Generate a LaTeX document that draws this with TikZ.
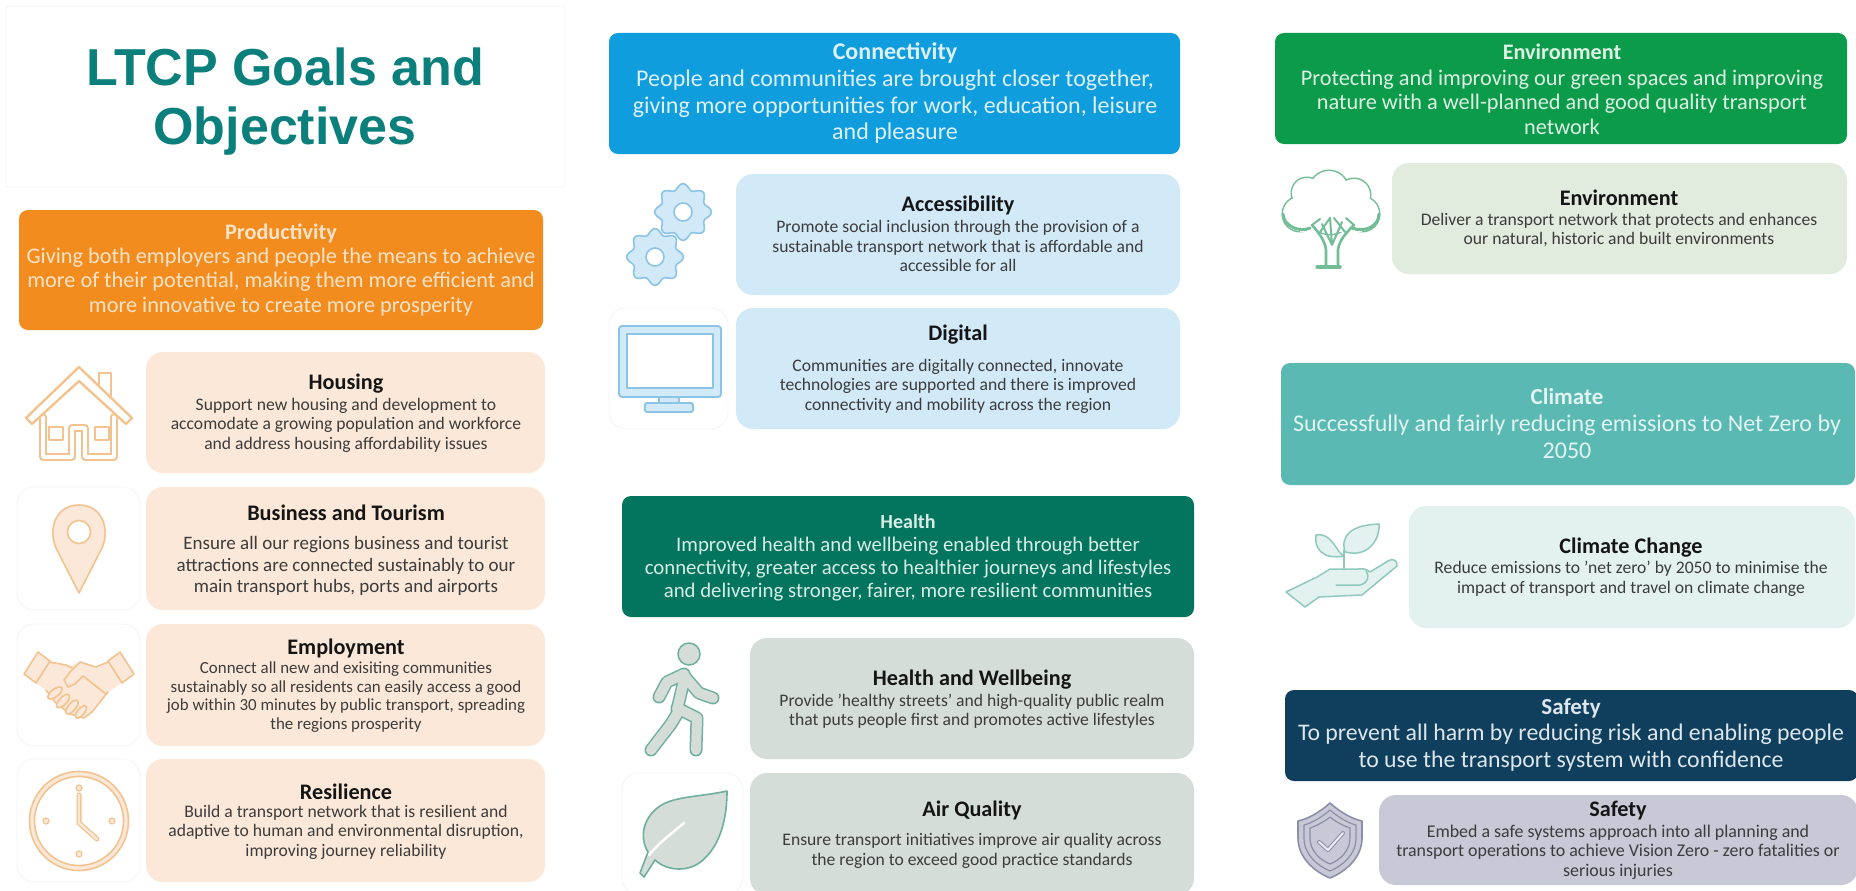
\documentclass[tikz,border=0pt]{standalone}
\usepackage{fontspec}
\setmainfont{Carlito}
\setsansfont{Liberation Sans}
\definecolor{oA}{HTML}{F28C1E}\definecolor{oB}{HTML}{FBE8D8}\definecolor{oS}{HTML}{F3C38F}\definecolor{oT}{HTML}{FBE3C8}
\definecolor{bA}{HTML}{0F9DDE}\definecolor{bB}{HTML}{D2E9F8}\definecolor{bS}{HTML}{8CC4E8}\definecolor{bT}{HTML}{DDF1FB}
\definecolor{hA}{HTML}{03745E}\definecolor{hB}{HTML}{D5DDD9}\definecolor{hS}{HTML}{6FAF9F}\definecolor{hT}{HTML}{D8EDE6}
\definecolor{eA}{HTML}{0B9B4A}\definecolor{eB}{HTML}{E1EBDE}\definecolor{eS}{HTML}{73BD96}\definecolor{eT}{HTML}{DDF2E4}
\definecolor{cA}{HTML}{5BB9B3}\definecolor{cB}{HTML}{E3F2EF}\definecolor{cS}{HTML}{8FC9BE}\definecolor{cT}{HTML}{E2F4F2}
\definecolor{sA}{HTML}{0F3F5C}\definecolor{sB}{HTML}{C9C8D6}\definecolor{sS}{HTML}{8A8FA8}\definecolor{sT}{HTML}{DCE6EC}
\definecolor{titlecol}{HTML}{0B7F7B}\definecolor{edge}{HTML}{F4F4F4}\definecolor{bodycol}{HTML}{3C3C3C}\definecolor{headcol}{HTML}{151515}
\tikzset{
  band/.style={rounded corners=9pt,inner sep=0pt,outer sep=0pt,draw=none},
  card/.style={rounded corners=17pt,inner sep=0pt,outer sep=0pt,draw=none},
  iconbg/.style={rounded corners=17pt,inner sep=0pt,outer sep=0pt,draw=edge,line width=.8pt,fill=white},
  tx/.style={align=center,inner sep=0pt,outer sep=0pt},
  bandhead/.style={tx,font=\fontsize{22.2}{26}\selectfont\bfseries},
  bandbody/.style={tx,font=\fontsize{22.3}{24.6}\selectfont},
  cardhead/.style={tx,text=headcol,font=\fontsize{22.2}{26}\selectfont\bfseries},
  cardbody/.style={tx,text=bodycol,font=\fontsize{17.6}{19.4}\selectfont},
  titletext/.style={tx,text=titlecol,font=\fontsize{52}{59}\selectfont\sffamily\bfseries},
  icon/.style={line join=round,line cap=round}
}
\newcommand{\bx}[6]{\node[#2,minimum width={(#5-#3)*1pt},minimum height={(#6-#4)*1pt}] (#1) at ({(#3+#5)/2},{(#4+#6)/2}) {};}
\newcommand{\gearicon}[2]{%
  \draw[bS,fill=bB,line width=1.6pt,smooth cycle] plot[domain=0:357.5,samples=144,variable=\t] ({#1+(25.5+2.8*cos(8*\t))*cos(\t)},{#2+(25.5+2.8*cos(8*\t))*sin(\t)});
  \draw[bS,fill=white,line width=1.6pt] (#1,#2) circle (9);}
\begin{document}
\begin{tikzpicture}[x=1pt,y=-1pt]
\path[use as bounding box,fill=white] (0,0) rectangle (1856,891);
% title
\bx{titlebox}{iconbg,rounded corners=2pt}{6}{6}{565}{187}
\node[titletext] (title) at (285,102) {LTCP Goals and\\Objectives};
% icon backgrounds
\bx{ibiz}{iconbg}{17}{487}{140}{610}
\bx{iemp}{iconbg}{17}{624}{140}{746}
\bx{ires}{iconbg}{17}{759}{140}{882}
\bx{idig}{iconbg}{609}{308}{728}{429}
\bx{iair}{iconbg}{622}{773}{743}{895}
% left column
\bx{prod}{band,fill=oA}{19}{210}{543}{330}
\node[bandhead,text=oT] (prodh) at (281,233) {Productivity};
\node[bandbody,text=oT] (prodb) at (281,282) {Giving both employers and people the means to achieve\\more of their potential, making them more efficient and\\more innovative to create more prosperity};
\bx{hous}{card,fill=oB}{146}{352}{545}{473}
\node[cardhead] (oush) at (346,384) {Housing};
\node[cardbody] (ousb) at (346,425) {Support new housing and development to\\accomodate a growing population and workforce\\and address housing affordability issues};
\bx{biz}{card,fill=oB}{146}{487}{545}{610}
\node[cardhead] (bizh) at (346,513) {Business and Tourism};
\node[cardbody,font=\fontsize{19}{21.4}\selectfont] (bizb) at (346,566) {Ensure all our regions business and tourist\\attractions are connected sustainably to our\\main transport hubs, ports and airports};
\bx{emp}{card,fill=oB}{146}{624}{545}{746}
\node[cardhead] (emph) at (346,648) {Employment};
\node[cardbody,font=\fontsize{16.9}{18.6}\selectfont] (empb) at (346,697) {Connect all new and exisiting communities\\sustainably so all residents can easily access a good\\job within 30 minutes by public transport, spreading\\the regions prosperity};
\bx{res}{card,fill=oB}{146}{759}{545}{882}
\node[cardhead] (resh) at (346,792) {Resilience};
\node[cardbody] (resb) at (346,832) {Build a transport network that is resilient and\\adaptive to human and environmental disruption,\\improving journey reliability};
% middle column top
\bx{conn}{band,fill=bA}{609}{33}{1180}{154}
\node[bandhead,font=\fontsize{24}{28}\selectfont\bfseries,text=bT] (connh) at (895,53) {Connectivity};
\node[bandbody,font=\fontsize{24}{26.4}\selectfont,text=bT] (connb) at (895,107) {People and communities are brought closer together,\\giving more opportunities for work, education, leisure\\and pleasure};
\bx{acc}{card,fill=bB}{736}{174}{1180}{295}
\node[cardhead] (acch) at (958,205) {Accessibility};
\node[cardbody] (accb) at (958,246) {Promote social inclusion through the provision of a\\sustainable transport network that is affordable and\\accessible for all};
\bx{dig}{card,fill=bB}{736}{308}{1180}{429}
\node[cardhead] (digh) at (958,335) {Digital};
\node[cardbody] (digb) at (958,386) {Communities are digitally connected, innovate\\technologies are supported and there is improved\\connectivity and mobility across the region};
% middle column bottom
\bx{heal}{band,fill=hA}{622}{496}{1194}{617}
\node[bandhead,font=\fontsize{20}{24}\selectfont\bfseries,text=hT] (healh) at (908,522) {Health};
\node[bandbody,text=hT,font=\fontsize{20.8}{23.2}\selectfont] (healb) at (908,569) {Improved health and wellbeing enabled through better\\connectivity, greater access to healthier journeys and lifestyles\\and delivering stronger, fairer, more resilient communities};
\bx{hw}{card,fill=hB}{750}{638}{1194}{759}
\node[cardhead] (hwh) at (972,680) {Health and Wellbeing};
\node[cardbody] (hwb) at (972,711) {Provide 'healthy streets' and high-quality public realm\\that puts people first and promotes active lifestyles};
\bx{air}{card,fill=hB}{750}{773}{1194}{895}
\node[cardhead] (airh) at (972,810) {Air Quality};
\node[cardbody] (airb) at (972,851) {Ensure transport initiatives improve air quality across\\the region to exceed good practice standards};
% right column
\bx{envb}{band,fill=eA}{1275}{33}{1847}{144}
\node[bandhead,text=eT] (envbh) at (1562,52) {Environment};
\node[bandbody,text=eT] (envbb) at (1562,102) {Protecting and improving our green spaces and improving\\nature with a well-planned and good quality transport\\network};
\bx{envc}{card,fill=eB}{1392}{163}{1847}{274}
\node[cardhead] (envch) at (1619,198) {Environment};
\node[cardbody] (envcb) at (1619,230) {Deliver a transport network that protects and enhances\\our natural, historic and built environments};
\bx{clib}{band,fill=cA}{1281}{363}{1855}{485}
\node[bandhead,text=cT,font=\fontsize{23}{28}\selectfont\bfseries] (clibh) at (1567,397) {Climate};
\node[bandbody,text=cT,font=\fontsize{24}{26.6}\selectfont] (clibb) at (1567,437) {Successfully and fairly reducing emissions to Net Zero by\\2050};
\bx{clic}{card,fill=cB}{1409}{506}{1855}{628}
\node[cardhead] (clich) at (1631,548) {Climate Change};
\node[cardbody] (clicb) at (1631,579) {Reduce emissions to 'net zero' by 2050 to minimise the\\impact of transport and travel on climate change};
\bx{safb}{band,fill=sA}{1285}{690}{1858}{781}
\node[bandhead,text=sT,font=\fontsize{23}{26}\selectfont\bfseries] (safbh) at (1571,708) {Safety};
\node[bandbody,text=sT,font=\fontsize{23.8}{26.8}\selectfont] (safbb) at (1571,748) {To prevent all harm by reducing risk and enabling people\\to use the transport system with confidence};
\bx{safc}{card,fill=sB}{1379}{795}{1858}{885}
\node[cardhead] (safch) at (1618,811) {Safety};
\node[cardbody,font=\fontsize{17.9}{19.4}\selectfont] (safcb) at (1618,852) {Embed a safe systems approach into all planning and\\transport operations to achieve Vision Zero - zero fatalities or\\serious injuries};
% ---------- icons ----------
% house
\begin{scope}[icon]
\draw[oS,line width=2pt,fill=white] (99,373) rectangle (111,398);
\draw[oS,line width=7.4pt] (43,417)--(43,457)--(72,457)--(72,428)--(85,428)--(85,457)--(114,457)--(114,417);
\draw[white,line width=3.4pt] (43,417)--(43,457)--(72,457)--(72,428)--(85,428)--(85,457)--(114,457)--(114,417);
\draw[oS,line width=2.4pt,fill=white] (26,418)--(79,367)--(132,418)--(126,424)--(79,381)--(32,424)--cycle;
\draw[oS,line width=2.2pt] (49,427) rectangle (63,440) (95,427) rectangle (109,440);
\end{scope}
% pin
\draw[icon,oS,fill=oB,line width=1.6pt] (79,593)--(56,548) .. controls (48,530) and (55,505) .. (79,505) .. controls (103,505) and (110,530) .. (102,548) -- cycle;
\draw[oS,fill=white,line width=1.6pt] (79,532) ellipse (11.5 and 11.5);
% handshake
\begin{scope}[icon,oS,line width=1.6pt]
\fill[oB] (50,662)--(70,666)--(80,662)--(98,668)--(108,662)--(122,683)--(108,692)--(92,712)--(84,718)--(70,714)--(55,702)--(46,690)--(36,683)--cycle;
\draw (50,662)--(66,665)--(72,668) (46,690)--(55,702)--(70,714)--(84,718)--(92,712)--(108,692);
\draw[fill=oB] (24,674)--(38,652)--(50,661)--(36,683)--cycle;
\draw[fill=oB] (134,674)--(120,652)--(108,661)--(122,683)--cycle;
\draw (108,662)--(96,667)--(80,662)--(70,672)--(64,680)--(68,687)--(75,684)--(83,676)--(106,694);
\draw[fill=oB,rotate around={38:(55,693)}] (55,693) ellipse (8.5 and 3.8);
\draw[fill=oB,rotate around={45:(63,701)}] (63,701) ellipse (8.5 and 3.8);
\draw[fill=oB,rotate around={50:(72,707)}] (72,707) ellipse (8.5 and 3.8);
\draw[fill=oB,rotate around={50:(81,712)}] (81,712) ellipse (7.5 and 3.4);
\end{scope}
% clock
\draw[oS,fill=oB,line width=1.6pt] (79,821) circle (49.5);
\draw[oS,fill=white,line width=1.6pt] (79,821) circle (44.5);
\foreach \dx/\dy in {0/-33,0/33,-33/0,33/0}{\draw[oS,fill=oB,line width=1.2pt] ({79+\dx},{821+\dy}) circle (3);}
\draw[icon,oS,line width=5pt] (79,795)--(79,823)--(97,839);
\draw[icon,oB,line width=2.4pt] (79,795)--(79,823)--(97,839);
% gears
\gearicon{683}{212}
\gearicon{655}{257}
% monitor
\begin{scope}[icon,bS,line width=1.8pt]
\draw[fill=bB] (659,396) rectangle (679,404);
\draw[fill=bB,rounded corners=1.5pt] (645,403) rectangle (693,412);
\draw[fill=bB,rounded corners=3pt] (619,326) rectangle (721,397);
\draw[fill=white] (627,334) rectangle (713,388);
\end{scope}
% walker
\begin{scope}[icon]
\draw[hS,fill=hB,line width=1.5pt] (689,654) circle (11);
\def\walkpath{(685,676)--(677,710) (684,674)--(667,682)--(659,697) (685,677)--(699,693)--(713,698) (677,708)--(697,718)--(696,750) (677,714)--(671,724)--(651,750)}
\draw[hS,line width=13pt] \walkpath;
\draw[hB,line width=10pt] \walkpath;
\end{scope}
% leaf
\begin{scope}[icon]
\draw[hS,fill=hB,line width=1.6pt] (727,791) .. controls (700,797) and (675,796) .. (660,806) .. controls (645,816) and (638,835) .. (648,852) -- (640,873) -- (644,877) -- (655,860) .. controls (668,872) and (690,872) .. (703,860) .. controls (722,843) and (727,815) .. (727,791) -- cycle;
\draw[white,line width=2.4pt] (684,823) .. controls (672,833) and (660,842) .. (649,855);
\end{scope}
% tree
\begin{scope}[icon]
\def\crown{(1329,190) circle (19) (1307,193) circle (15) (1354,195) circle (16) (1300,214) circle (17) (1362,214) circle (17) (1330,212) circle (22) (1316,208) circle (12) (1345,208) circle (12)}
\draw[eS,line width=3pt,fill=white] \crown;
\fill[white] \crown;
\fill[white] (1300,222) rectangle (1362,232);
\draw[eS,line width=3pt] (1283,214) .. controls (1283,226) and (1300,233) .. (1310,228) (1379,214) .. controls (1379,226) and (1365,233) .. (1352,228);
\draw[eS,line width=2.6pt] (1326,266)--(1326,250) .. controls (1325,240) and (1318,232) .. (1312,225) (1338,266)--(1338,250) .. controls (1339,240) and (1347,232) .. (1354,225);
\draw[eS,line width=2pt] (1332,245)--(1330,218) (1332,245)--(1322,224) (1332,245)--(1342,222) (1312,225)--(1320,219) (1354,225)--(1346,218) (1320,232)--(1330,218) (1345,232)--(1334,218);
\draw[eS,line width=3.4pt] (1317,267)--(1340,267);
\end{scope}
% plant in hand
\begin{scope}[icon,cS,line width=1.5pt]
\draw[fill=cB] (1286,592)--(1305,607)--(1319,597)--(1362,595)--(1397,566) .. controls (1398,560) and (1392,558) .. (1388,561) --(1370,572) .. controls (1366,568) and (1362,569) .. (1358,569) --(1330,569)--(1317,577)--cycle;
\draw (1336,585)--(1360,585) .. controls (1368,583) and (1370,576) .. (1366,571);
\draw (1344,568)--(1344,550);
\draw[fill=cB] (1344,556) .. controls (1336,552) and (1332,532) .. (1316,535) .. controls (1314,548) and (1322,560) .. (1344,556) -- cycle;
\draw[fill=cB] (1345,552) .. controls (1340,535) and (1352,525) .. (1379,524) .. controls (1380,540) and (1368,558) .. (1345,552) -- cycle;
\end{scope}
% shield
\begin{scope}[icon,sS]
\draw[fill=sB,line width=1.6pt] (1330,803) .. controls (1320,812) and (1308,819) .. (1298,821) -- (1298,838) .. controls (1298,858) and (1315,872) .. (1330,878) .. controls (1345,872) and (1362,858) .. (1362,838) -- (1362,821) .. controls (1352,819) and (1340,812) .. (1330,803) -- cycle;
\draw[line width=1.2pt] (1330,810) .. controls (1322,817) and (1312,823) .. (1304,825) -- (1304,838) .. controls (1304,855) and (1318,866) .. (1330,871) .. controls (1342,866) and (1356,855) .. (1356,838) -- (1356,825) .. controls (1348,823) and (1338,817) .. (1330,810) -- cycle;
\draw[line width=1.2pt] (1330,817) .. controls (1324,822) and (1316,826) .. (1310,828) -- (1310,838) .. controls (1310,851) and (1320,860) .. (1330,864) .. controls (1340,860) and (1350,851) .. (1350,838) -- (1350,828) .. controls (1344,826) and (1336,822) .. (1330,817) -- cycle;
\draw[line width=4pt] (1319,842)--(1328,850)--(1343,833);
\draw[sB!35!white,line width=2pt] (1319,842)--(1328,850)--(1343,833);
\end{scope}
\end{tikzpicture}
\end{document}
